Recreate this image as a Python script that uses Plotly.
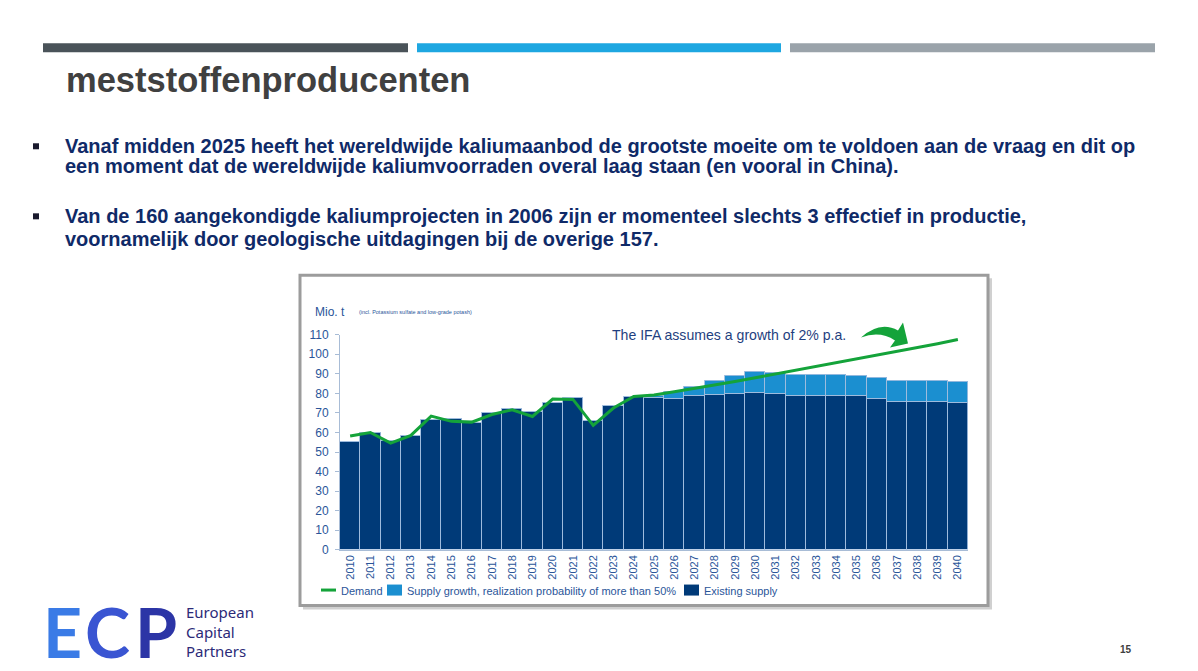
import plotly.graph_objects as go

# Figure placement in the photographed page (body margin + browser offsets)
OFF_X = 8
OFF_Y = 14.8
SCALE_Y = 0.9785
W, H = 1198 - 2 * OFF_X, 670

years = [str(y) for y in range(2010, 2041)]
existing_supply = [55.3, 59.7, 55.9, 58.5, 66.7, 66.8, 65.1, 70.1, 72.1, 70.8, 75.2, 77.8, 66.0, 73.8, 78.1,
                   77.6, 77.3, 78.6, 79.3, 79.8, 80.3, 79.8, 78.6, 78.6, 79.0, 78.6, 77.4, 75.7, 75.7, 75.5, 75.0]
supply_growth = [0, 0, 0, 0, 0, 0, 0, 0, 0, 0, 0, 0, 0, 0, 0,
                 1.4, 3.4, 5.0, 7.0, 9.4, 10.8, 10.6, 10.9, 10.9, 10.7, 10.2, 10.6, 10.8, 10.8, 10.8, 10.8]
demand = [58.2, 60.0, 54.6, 58.5, 68.4, 65.7, 65.3, 69.2, 71.6, 68.2, 77.1, 76.9, 63.6, 72.5, 78.4,
          79.2, 80.8, 82.5, 84.3, 86.1, 88.0, 89.9, 91.8, 93.7, 95.6, 97.5, 99.4, 101.4, 103.4, 105.4, 107.5]
y_ticks = [0, 10, 20, 30, 40, 50, 60, 70, 80, 90, 100, 110]
legend_labels = ["Demand", "Supply growth, realization probability of more than 50%", "Existing supply"]

title_text = "meststoffenproducenten"
bullets = [
    ["Vanaf midden 2025 heeft het wereldwijde kaliumaanbod de grootste moeite om te voldoen aan de vraag en dit op",
     "een moment dat de wereldwijde kaliumvoorraden overal laag staan (en vooral in China)."],
    ["Van de 160 aangekondigde kaliumprojecten in 2006 zijn er momenteel slechts 3 effectief in productie,",
     "voornamelijk door geologische uitdagingen bij de overige 157."],
]


def px(x):
    return (x - OFF_X) / W


def py(y):
    return 1 - ((y - OFF_Y) / SCALE_Y) / H


C_DARK = "#003a78"
C_LIGHT = "#1b8fd0"
C_GREEN = "#14a33a"
C_AXTXT = "#2a5599"
NAVY = "#0f2a68"
EDGE = "rgba(160,188,222,0.9)"
FONT = "Liberation Sans, Arial"

fig = go.Figure()
fig.add_trace(go.Bar(x=years, y=existing_supply, name=legend_labels[2], marker_color=C_DARK,
                     marker_line=dict(color=EDGE, width=1)))
fig.add_trace(go.Bar(x=years, y=supply_growth, name=legend_labels[1],
                     marker_color=C_LIGHT, marker_line=dict(color=EDGE, width=1)))
fig.add_trace(go.Scatter(x=years, y=demand, name=legend_labels[0], mode="lines",
                         line=dict(color=C_GREEN, width=3)))

shapes = []
annotations = []

# header bars
for x0, x1, col in [(43, 408, "#4a5359"), (417, 781, "#1ea7e1"), (790, 1155, "#9aa3aa")]:
    shapes.append(dict(type="rect", xref="paper", yref="paper", x0=px(x0), x1=px(x1), y0=py(52), y1=py(43),
                       fillcolor=col, line_width=0, layer="below"))

# chart frame with shadow
shapes.append(dict(type="rect", xref="paper", yref="paper", x0=px(303), x1=px(992), y0=py(609), y1=py(278),
                   fillcolor="#d0d0d0", line_width=0, layer="below"))
shapes.append(dict(type="rect", xref="paper", yref="paper", x0=px(300), x1=px(988), y0=py(605), y1=py(275),
                   fillcolor="white", line=dict(color="#9c9c9c", width=3), layer="below"))

# bullet squares
for yb in [146, 216]:
    shapes.append(dict(type="rect", xref="paper", yref="paper", x0=px(33), x1=px(39), y0=py(yb + 3),
                       y1=py(yb - 3), line_width=0, fillcolor="#1a1a2e"))

# green curved arrow
path = (f"M {px(861):.5f},{py(337):.5f} "
        f"Q {px(880):.5f},{py(320):.5f} {px(898):.5f},{py(330):.5f} "
        f"L {px(903):.5f},{py(322):.5f} L {px(908):.5f},{py(343):.5f} L {px(890):.5f},{py(347):.5f} "
        f"L {px(895):.5f},{py(340):.5f} Q {px(880):.5f},{py(330):.5f} {px(861):.5f},{py(337):.5f} Z")
shapes.append(dict(type="path", xref="paper", yref="paper", path=path, fillcolor=C_GREEN, line_width=0))

# legend (drawn manually to match spacing)
LY = 589.5
shapes.append(dict(type="line", xref="paper", yref="paper", x0=px(321), x1=px(336), y0=py(LY), y1=py(LY),
                   line=dict(color=C_GREEN, width=3)))
shapes.append(dict(type="rect", xref="paper", yref="paper", x0=px(387), x1=px(402), y0=py(LY + 5.5),
                   y1=py(LY - 5.5), fillcolor=C_LIGHT, line_width=0))
shapes.append(dict(type="rect", xref="paper", yref="paper", x0=px(684), x1=px(699), y0=py(LY + 5.5),
                   y1=py(LY - 5.5), fillcolor=C_DARK, line_width=0))
for lx, lab in zip([339, 405, 702], legend_labels):
    annotations.append(dict(text=lab, x=px(lx), y=py(LY + 0.8), xref="paper", yref="paper", xanchor="left",
                            yanchor="middle", showarrow=False,
                            font=dict(family=FONT, size=11, color=C_AXTXT)))

# title
annotations.append(dict(text="<b>" + title_text + "</b>", x=px(64), y=py(80), xref="paper", yref="paper",
                        xanchor="left", yanchor="middle", showarrow=False,
                        font=dict(family=FONT, size=34.5, color="#404040")))
# bullet text
line_y = [[146, 166], [216, 239]]
for b, ys in zip(bullets, line_y):
    for t, yy in zip(b, ys):
        annotations.append(dict(text="<b>" + t + "</b>", x=px(63), y=py(yy), xref="paper", yref="paper",
                                xanchor="left", yanchor="middle", showarrow=False,
                                font=dict(family=FONT, size=20, color=NAVY)))

# chart texts
annotations.append(dict(text="Mio. t", x=px(313), y=py(312), xref="paper", yref="paper", xanchor="left",
                        yanchor="middle", showarrow=False,
                        font=dict(family=FONT, size=12, color=C_AXTXT)))
annotations.append(dict(text="(incl. Potassium sulfate and low-grade potash)", x=px(357), y=py(312),
                        xref="paper", yref="paper", xanchor="left", yanchor="middle", showarrow=False,
                        font=dict(family=FONT, size=5.5, color=C_AXTXT)))
annotations.append(dict(text="The IFA assumes a growth of 2% p.a.", x=px(610), y=py(335), xref="paper",
                        yref="paper", xanchor="left", yanchor="middle", showarrow=False,
                        font=dict(family=FONT, size=14.1, color="#1f3f80")))

# logo letters
for letter, lx, col in [("E", 41, "#3a7be6"), ("C", 83, "#3a55d2"), ("P", 133, "#2c35a6")]:
    annotations.append(dict(text="<b>" + letter + "</b>", x=px(lx), y=py(631), xref="paper", yref="paper",
                            xanchor="left", yanchor="middle", showarrow=False,
                            font=dict(family="Lato, Liberation Sans", size=68, color=col)))
annotations.append(dict(text="European<br>Capital<br>Partners", x=px(184), y=py(631), xref="paper",
                        yref="paper", xanchor="left", yanchor="middle", showarrow=False, align="left",
                        font=dict(family="Noto Sans, Liberation Sans", size=15, color="#2c2a78")))
annotations.append(dict(text="<b>15</b>", x=px(1126), y=py(649), xref="paper", yref="paper",
                        xanchor="center", yanchor="middle", showarrow=False,
                        font=dict(family=FONT, size=10, color="#404040")))

fig.update_layout(
    width=W, height=H, margin=dict(l=0, r=0, t=0, b=0),
    paper_bgcolor="white", plot_bgcolor="white",
    barmode="stack", bargap=0, showlegend=False,
    shapes=shapes, annotations=annotations,
    xaxis=dict(domain=[px(340), px(968)], type="category", tickangle=-90,
               tickfont=dict(family=FONT, size=11, color=C_AXTXT),
               showline=True, linecolor="#a8bcd6", linewidth=1, ticks="", showgrid=False, fixedrange=True),
    yaxis=dict(domain=[py(549.3), py(334.3)], range=[0, 110], tickvals=y_ticks,
               tickfont=dict(family=FONT, size=12, color=C_AXTXT), ticklabelstandoff=4,
               showline=True, linecolor="#a8bcd6", linewidth=1, ticks="outside", ticklen=4,
               tickcolor="#a8bcd6", showgrid=False, zeroline=False, fixedrange=True),
)

fig.write_html("out.html")
